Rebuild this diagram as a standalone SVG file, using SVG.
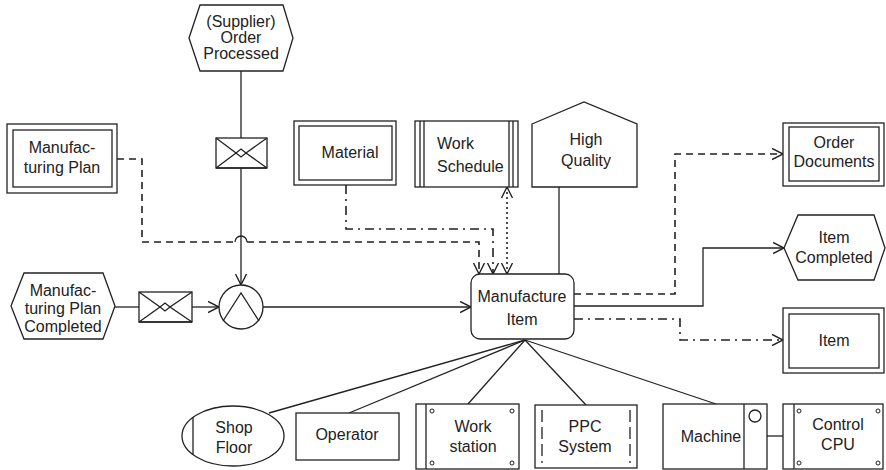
<svg xmlns="http://www.w3.org/2000/svg" width="886" height="470" viewBox="0 0 886 470">
<defs>
<style>
.s{fill:#fff;stroke:#222;stroke-width:1.3}
.n{fill:none;stroke:#222;stroke-width:1.3}
.t{font-family:"Liberation Sans",Arial,sans-serif;font-size:16px;fill:#222;text-anchor:middle}
.c{fill:none;stroke:#222;stroke-width:1.3}
.dash{stroke-dasharray:7 5;stroke-width:1.6}
.dd{stroke-dasharray:9 5 2 5;stroke-width:1.6}
.dot{stroke-dasharray:2 3;stroke-width:1.6}
.hole{fill:#fff;stroke:#222;stroke-width:1}
</style>
<marker id="a" markerUnits="userSpaceOnUse" markerWidth="14" markerHeight="14" refX="11" refY="6" orient="auto-start-reverse" viewBox="0 0 14 12">
<path d="M0,0.5 L11,6 L0,11.5" fill="none" stroke="#222" stroke-width="1.4" stroke-dasharray="none"/>
</marker>
</defs>
<rect width="886" height="470" fill="#fff"/>

<g id="connectors">
<line class="c" x1="241" y1="71" x2="241" y2="138"/>
<path class="c" d="M241,168 L241,285" marker-end="url(#a)"/>
<line class="c" x1="115" y1="307" x2="139" y2="307"/>
<path class="c" d="M192,307 L219,307" marker-end="url(#a)"/>
<path class="c" d="M263,307 L471,307" marker-end="url(#a)"/>
<path class="c dash" d="M117,159 L142,159 L142,242 L235,242"/>
<path class="c" d="M235,242 A6,6 0 0 1 247,242"/>
<path class="c dash" d="M247,242 L479,242 L479,274" marker-end="url(#a)"/>
<path class="c dd" d="M346,185 L346,229 L493,229 L493,274" marker-end="url(#a)"/>
<path class="c dot" d="M507,187 L507,274" marker-start="url(#a)" marker-end="url(#a)"/>
<line class="c" x1="559" y1="187" x2="559" y2="274"/>
<path class="c dash" d="M574,294 L675,294 L675,154 L783,154" marker-end="url(#a)"/>
<path class="c" d="M574,306 L703,306 L703,248 L784,248" marker-end="url(#a)"/>
<path class="c dd" d="M574,319 L680,319 L680,340 L783,340" marker-end="url(#a)"/>
<line class="c" x1="525" y1="340" x2="269" y2="413"/>
<line class="c" x1="525" y1="340" x2="349" y2="413"/>
<line class="c" x1="525" y1="340" x2="468" y2="404"/>
<line class="c" x1="525" y1="340" x2="586" y2="405"/>
<line class="c" x1="525" y1="340" x2="716" y2="404"/>
<line class="c" x1="767" y1="436" x2="783" y2="436"/>
</g>

<g id="supplier-order-processed">
<polygon class="s" points="189,38 200,5 283,5 293,38 283,71 200,71"/>
<text class="t" x="241" y="27">(Supplier)</text>
<text class="t" x="241" y="43">Order</text>
<text class="t" x="241" y="59">Processed</text>
</g>

<g id="msg1">
<rect class="s" x="216" y="138" width="51" height="30"/>
<path class="n" d="M216,138 L236,153 L216,168 M267,138 L246,153 L267,168 M236,153 L241,149 L246,153 L241,157 Z"/>
<line class="n" x1="216" y1="168" x2="267" y2="168" stroke-width="2.2"/>
</g>

<g id="manufacturing-plan">
<rect class="s" x="7" y="124" width="110" height="69"/>
<rect class="n" x="13" y="130" width="99" height="57"/>
<text class="t" x="62" y="153">Manufac-</text>
<text class="t" x="62" y="173">turing Plan</text>
</g>

<g id="material">
<rect class="s" x="294" y="121" width="102" height="64"/>
<rect class="n" x="299" y="126" width="93" height="54"/>
<text class="t" x="350" y="158">Material</text>
</g>

<g id="work-schedule">
<rect class="s" x="415" y="121" width="103" height="66"/>
<path class="n" d="M420,121 V187 M424,121 V187 M509,121 V187 M513,121 V187"/>
<text class="t" x="437" y="149" style="text-anchor:start">Work</text>
<text class="t" x="437" y="172" style="text-anchor:start">Schedule</text>
</g>

<g id="high-quality">
<polygon class="s" points="532,124 584,102 637,124 637,187 532,187"/>
<text class="t" x="586" y="145">High</text>
<text class="t" x="586" y="166">Quality</text>
</g>

<g id="order-documents">
<rect class="s" x="783" y="123" width="101" height="63"/>
<rect class="n" x="789" y="127" width="90" height="54"/>
<text class="t" x="834" y="148">Order</text>
<text class="t" x="834" y="167">Documents</text>
</g>

<g id="item-completed">
<polygon class="s" points="784,248 798,215 874,215 885,248 874,280 798,280"/>
<text class="t" x="834" y="243">Item</text>
<text class="t" x="834" y="263">Completed</text>
</g>

<g id="item">
<rect class="s" x="783" y="308" width="101" height="65"/>
<rect class="n" x="789" y="314" width="90" height="54"/>
<text class="t" x="834" y="346">Item</text>
</g>

<g id="mp-completed">
<polygon class="s" points="11,306 24,273 103,273 115,306 103,339 24,339"/>
<text class="t" x="63" y="296">Manufac-</text>
<text class="t" x="63" y="314">turing Plan</text>
<text class="t" x="63" y="332">Completed</text>
</g>

<g id="msg2">
<rect class="s" x="139" y="292" width="53" height="30"/>
<path class="n" d="M139,292 L160,307 L139,322 M192,292 L170,307 L192,322 M160,307 L165,303 L170,307 L165,311 Z"/>
<line class="n" x1="139" y1="322" x2="192" y2="322" stroke-width="2.2"/>
</g>

<g id="and-operator">
<circle class="s" cx="241" cy="307" r="22"/>
<path class="n" d="M223,321 L241,293 L259,321"/>
</g>

<g id="manufacture-item">
<rect class="s" x="471" y="274" width="103" height="65" rx="9"/>
<text class="t" x="522" y="302">Manufacture</text>
<text class="t" x="522" y="325">Item</text>
</g>

<g id="shop-floor">
<ellipse class="s" cx="233" cy="436" rx="51" ry="30"/>
<line class="n" x1="193" y1="417" x2="193" y2="455"/>
<text class="t" x="234" y="433">Shop</text>
<text class="t" x="234" y="453">Floor</text>
</g>

<g id="operator">
<rect class="s" x="296" y="413" width="103" height="47"/>
<text class="t" x="347" y="440">Operator</text>
</g>

<g id="workstation">
<rect class="s" x="416" y="404" width="103" height="65"/>
<line class="n" x1="426" y1="404" x2="426" y2="469"/>
<circle class="hole" cx="432" cy="411" r="2"/>
<circle class="hole" cx="512" cy="411" r="2"/>
<circle class="hole" cx="432" cy="463" r="2"/>
<circle class="hole" cx="512" cy="463" r="2"/>
<text class="t" x="473" y="432">Work</text>
<text class="t" x="473" y="452">station</text>
</g>

<g id="ppc-system">
<rect class="s" x="535" y="405" width="102" height="63"/>
<path class="n" d="M542,410 V463 M630,410 V463" stroke-width="2" stroke-dasharray="12 5"/>
<text class="t" x="585" y="432">PPC</text>
<text class="t" x="585" y="452">System</text>
</g>

<g id="machine">
<rect class="s" x="663" y="404" width="104" height="65"/>
<line class="n" x1="744" y1="404" x2="744" y2="469"/>
<circle class="n" cx="755" cy="416" r="6"/>
<text class="t" x="711" y="442">Machine</text>
</g>

<g id="control-cpu">
<rect class="s" x="783" y="404" width="100" height="65"/>
<line class="n" x1="794" y1="404" x2="794" y2="469"/>
<circle class="hole" cx="799" cy="411" r="2"/>
<circle class="hole" cx="878" cy="411" r="2"/>
<circle class="hole" cx="799" cy="463" r="2"/>
<circle class="hole" cx="878" cy="463" r="2"/>
<text class="t" x="838" y="430">Control</text>
<text class="t" x="838" y="450">CPU</text>
</g>
</svg>
